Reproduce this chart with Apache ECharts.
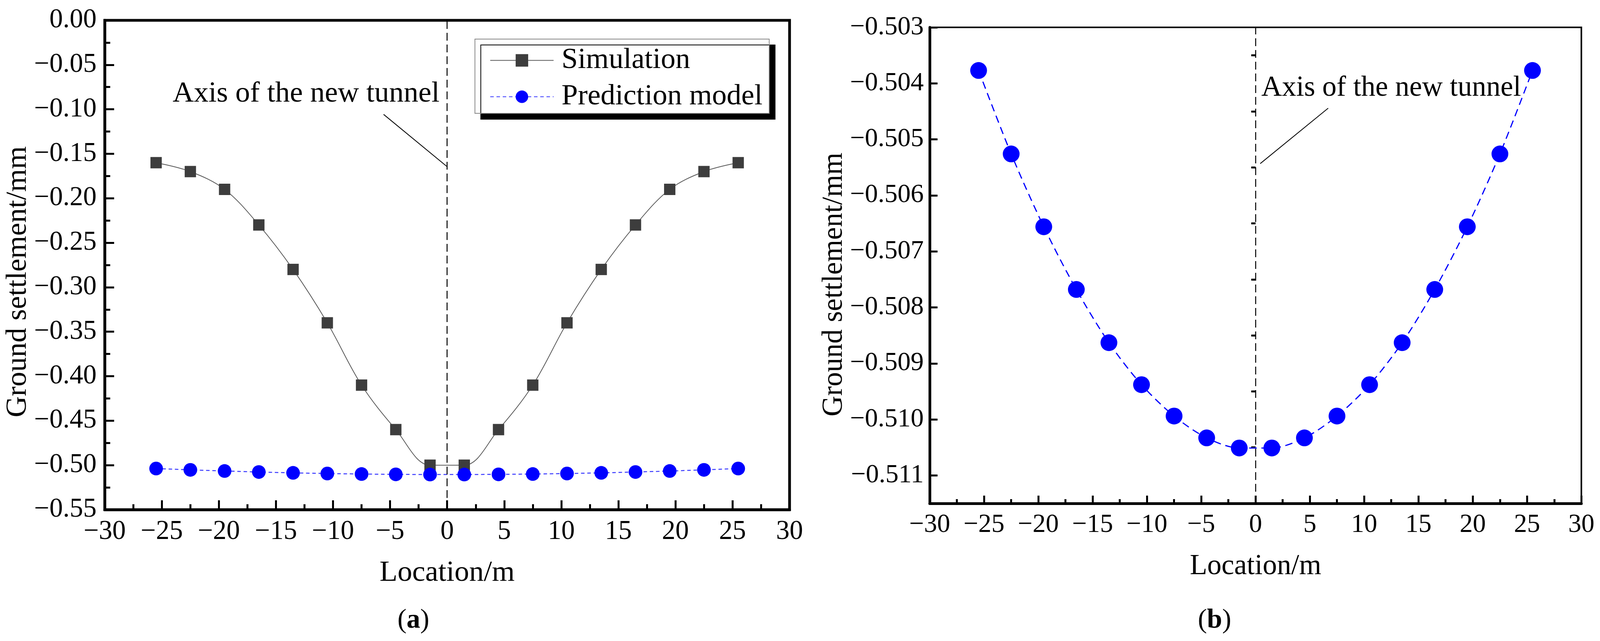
<!DOCTYPE html>
<html>
<head>
<meta charset="utf-8">
<script src="https://cdn.jsdelivr.net/npm/echarts@6/dist/echarts.min.js"></script>
<style>
    html, body { margin: 0; padding: 0; background: #fff; overflow: hidden; }
    #main { width: 100vw; height: 100vh; }
</style>
</head>
<body>
<div id="main"></div>
<script>
// 数据
var locations = [-25.5, -22.5, -19.5, -16.5, -13.5, -10.5, -7.5, -4.5, -1.5,
                 1.5, 4.5, 7.5, 10.5, 13.5, 16.5, 19.5, 22.5, 25.5];
var simulation = [-0.16, -0.17, -0.19, -0.23, -0.28, -0.34, -0.41, -0.46, -0.50,
                  -0.50, -0.46, -0.41, -0.34, -0.28, -0.23, -0.19, -0.17, -0.16];
var prediction = [-0.50377, -0.50526, -0.50656, -0.50768, -0.50863, -0.50938, -0.50994, -0.51033, -0.51051,
                  -0.51051, -0.51033, -0.50994, -0.50938, -0.50863, -0.50768, -0.50656, -0.50526, -0.50377];
var rightYMajor = [-0.511, -0.510, -0.509, -0.508, -0.507, -0.506, -0.505, -0.504, -0.503];
var rightYMinor = [-0.5115, -0.5105, -0.5095, -0.5085, -0.5075, -0.5065, -0.5055, -0.5045, -0.5035];
var seriesNames = ['Simulation', 'Prediction model'];
var noteText = 'Axis of the new tunnel';

// 注释位置（数据坐标）
var noteA = {text: [-24.05, -0.0825], line: [[-5.57, -0.1057], [0, -0.1645]]};
var noteB = {text: [0.53, -0.50409], line: [[6.69, -0.504443], [0.43, -0.505433]]};

var FONT = 'Liberation Serif, Times New Roman, serif';

var el = document.getElementById('main');
var chart = echarts.init(el);
var W = chart.getWidth();
var H = chart.getHeight();
// 按参考图 4292x1640 的比例换算
function X(px) { return px * W / 4292; }
function Y(py) { return py * H / 1640; }

function pairs(ys) {
    return locations.map(function (x, i) {
        return [x, ys[i]];
    });
}
function minus(s) {
    return String(s).replace('-', '\u2212');
}

function xAxisOf(gridIndex, fontSize, major, minor) {
    return {
        gridIndex: gridIndex,
        type: 'value',
        min: -30, max: 30, interval: 5,
        name: 'Location/m',
        nameLocation: 'middle',
        nameGap: Y(125),
        nameTextStyle: {fontFamily: FONT, fontSize: fontSize + 6, color: '#000'},
        axisLine: {onZero: false, lineStyle: {color: '#000', width: 7}},
        axisTick: {inside: true, length: major, lineStyle: {color: '#000', width: 5}},
        minorTick: {show: true, splitNumber: 2, length: minor, lineStyle: {color: '#000', width: 5}},
        axisLabel: {
            fontFamily: FONT, fontSize: fontSize, color: '#000', margin: Y(22),
            formatter: function (v) { return minus(v); }
        },
        splitLine: {show: false}
    };
}

var option = {
    backgroundColor: '#fff',
    animation: false,
    grid: [
        {left: X(281), top: Y(52), width: X(1837), height: Y(1252), show: true, borderColor: '#000', borderWidth: 7, outerBoundsMode: 'none'},
        {left: X(2494), top: Y(70), width: X(1748), height: Y(1218), show: true, borderColor: '#000', borderWidth: 4, outerBoundsMode: 'none'}
    ],
    legend: {
        orient: 'vertical',
        left: X(1274), top: Y(100),
        data: seriesNames,
        itemWidth: X(170), itemHeight: 40, itemGap: Y(18),
        padding: [Y(17), X(18), Y(5), X(40)],
        backgroundColor: '#fff',
        borderColor: '#888', borderWidth: 2, borderRadius: 0,
        shadowColor: '#000', shadowBlur: 0, shadowOffsetX: 15, shadowOffsetY: 15,
        textStyle: {fontFamily: FONT, fontSize: 75, color: '#000', padding: [0, 0, 0, X(16)]}
    },
    xAxis: [
        xAxisOf(0, 69, 24, 14),
        xAxisOf(1, 67, 20, 11)
    ],
    yAxis: [
        {
            gridIndex: 0,
            type: 'value',
            min: -0.55, max: 0, interval: 0.05,
            name: 'Ground settlement/mm',
            nameLocation: 'middle',
            nameGap: X(180),
            nameTextStyle: {fontFamily: FONT, fontSize: 75, color: '#000', padding: [0, Y(86), 0, 0]},
            axisLine: {onZero: false, lineStyle: {color: '#000', width: 7}},
            axisTick: {inside: true, length: 24, lineStyle: {color: '#000', width: 5}},
            minorTick: {show: true, splitNumber: 2, length: 14, lineStyle: {color: '#000', width: 5}},
            axisLabel: {
                fontFamily: FONT, fontSize: 69, color: '#000', margin: X(22),
                formatter: function (v) { return minus(v.toFixed(2)); }
            },
            splitLine: {show: false}
        },
        {
            gridIndex: 1,
            type: 'value',
            min: -0.5115, max: -0.503,
            name: 'Ground settlement/mm',
            nameLocation: 'middle',
            nameGap: X(214),
            nameTextStyle: {fontFamily: FONT, fontSize: 73, color: '#000', padding: [0, Y(98), 0, 0]},
            axisLine: {onZero: false, lineStyle: {color: '#000', width: 7}},
            axisTick: {inside: true, length: 20, customValues: rightYMajor, lineStyle: {color: '#000', width: 5}},
            axisLabel: {
                fontFamily: FONT, fontSize: 67, color: '#000', margin: X(16),
                customValues: rightYMajor,
                formatter: function (v) { return minus(v.toFixed(3)); }
            },
            splitLine: {show: false}
        },
        {
            // 次刻度
            gridIndex: 1,
            type: 'value',
            min: -0.5115, max: -0.503,
            axisLine: {show: false},
            axisTick: {inside: true, length: 11, customValues: rightYMinor, lineStyle: {color: '#000', width: 5}},
            axisLabel: {show: false},
            splitLine: {show: false}
        }
    ],
    series: [
        {
            name: seriesNames[0],
            type: 'line',
            xAxisIndex: 0, yAxisIndex: 0,
            data: pairs(simulation),
            smooth: 0.35,
            symbol: 'rect', symbolSize: 29,
            itemStyle: {color: '#3d3d3d'},
            lineStyle: {color: '#5a5a5a', width: 2}
        },
        {
            name: seriesNames[1],
            type: 'line',
            xAxisIndex: 0, yAxisIndex: 0,
            data: pairs(prediction),
            symbol: 'circle', symbolSize: 35,
            itemStyle: {color: '#0000ff'},
            lineStyle: {color: '#3a3aff', width: 2.5, type: [9, 7]},
            markLine: {
                silent: true,
                symbol: ['none', 'none'],
                label: {show: false},
                data: [
                    [{xAxis: 0, yAxis: -0.55, lineStyle: {color: '#000', width: 2.5, type: [20, 10]}},
                     {xAxis: 0, yAxis: 0}],
                    [{coord: noteA.line[0], lineStyle: {color: '#000', width: 2, type: 'solid'}},
                     {coord: noteA.line[1]}]
                ]
            }
        },
        {
            name: seriesNames[1],
            type: 'line',
            xAxisIndex: 1, yAxisIndex: 1,
            data: pairs(prediction),
            smooth: 0.3,
            symbol: 'circle', symbolSize: 43,
            itemStyle: {color: '#0000ff'},
            lineStyle: {color: '#0000ff', width: 3, type: [19, 12]},
            markLine: {
                silent: true,
                symbol: ['none', 'none'],
                label: {show: false},
                data: [
                    [{xAxis: 0, yAxis: -0.5115, lineStyle: {color: '#000', width: 2.5, type: [20, 10]}},
                     {xAxis: 0, yAxis: -0.503}],
                    [{coord: noteB.line[0], lineStyle: {color: '#000', width: 2, type: 'solid'}},
                     {coord: noteB.line[1]}]
                ]
            }
        }
    ]
};
chart.setOption(option);

// 注释文字和子图编号
var pA = chart.convertToPixel({gridIndex: 0}, noteA.text);
var pB = chart.convertToPixel({gridIndex: 1}, noteB.text);
function panelLabel(x, letter) {
    return {
        type: 'text', x: X(x), y: Y(1588),
        style: {
            text: '({b|' + letter + '})', font: '70px ' + FONT, fill: '#000', align: 'center', verticalAlign: 'middle',
            rich: {b: {fontWeight: 'bold', fontSize: 70, fontFamily: FONT}}
        }
    };
}
chart.setOption({
    graphic: [
        {type: 'text', x: pA[0], y: pA[1], style: {text: noteText, font: '75px ' + FONT, fill: '#000', verticalAlign: 'middle'}},
        {type: 'text', x: pB[0], y: pB[1], style: {text: noteText, font: '73px ' + FONT, fill: '#000', verticalAlign: 'middle'}},
        panelLabel(1109, 'a'),
        panelLabel(3258, 'b')
    ]
});
</script>
</body>
</html>
